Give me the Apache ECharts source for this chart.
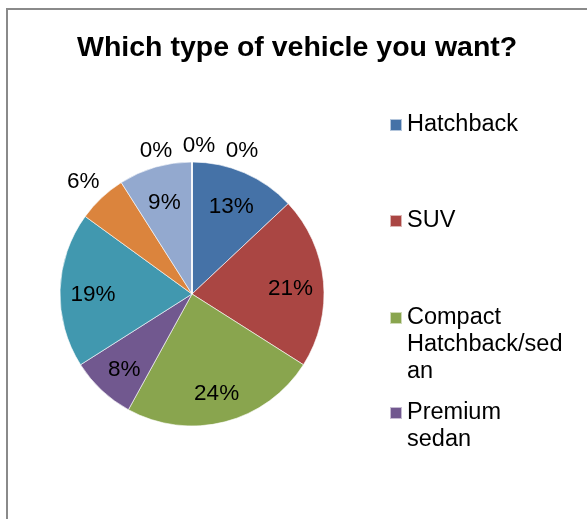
<!DOCTYPE html>
<html>
<head>
<meta charset="utf-8">
<script src="https://cdn.jsdelivr.net/npm/echarts@6/dist/echarts.min.js"></script>
<style>
  html, body { margin: 0; padding: 0; background: #ffffff; }
  #chart { width: 587px; height: 519px; }
</style>
</head>
<body>
<div id="chart"></div>
<script>
// Survey answers: share of respondents (%) per vehicle type, clockwise from 12 o'clock
const categories = [
  'Hatchback', 'SUV', 'Compact Hatchback/sedan', 'Premium sedan',
  'Sedan', 'MUV', 'Luxury', 'Electric', 'Hybrid', 'Other'
];
const shares = [13, 21, 24, 8, 19, 6, 9, 0, 0, 0];
const sliceColors = [
  '#4572A7', '#AA4643', '#89A54E', '#71588F', '#4198AF',
  '#DB843D', '#93A9CF', '#D19392', '#B9CD96', '#A99BBD'
];
// Legend entries that fit in the box, with their wrapped text
const legendNames = ['Hatchback', 'SUV', 'Compact Hatchback/sedan', 'Premium sedan'];
const legendLines = {
  'Hatchback': ['Hatchback'],
  'SUV': ['SUV'],
  'Compact Hatchback/sedan': ['Compact', 'Hatchback/sed', 'an'],
  'Premium sedan': ['Premium', 'sedan']
};

const FONT = '"Liberation Sans", Arial, sans-serif';
const CX = 192, CY = 294, R = 132;
const LEGEND_LINE = 27;
const legendIconY = [125, 221, 318, 413];

// Blank lines are put before the wrapped text so the marker sits beside the first line
function legendLabel(name) {
  const lines = legendLines[name];
  return '\n'.repeat(lines.length - 1) + lines.join('\n');
}
const legends = legendNames.map(function (name, i) {
  const total = legendLines[name].length * 2 - 1;
  return {
    data: [name],
    orient: 'vertical',
    left: 389,
    top: legendIconY[i] - total * LEGEND_LINE / 2,
    padding: 0,
    itemWidth: 12,
    itemHeight: 12,
    icon: 'rect',
    selectedMode: false,
    formatter: legendLabel,
    textStyle: { fontFamily: FONT, fontSize: 23.5, color: '#000', lineHeight: LEGEND_LINE }
  };
});

// Percent labels: inside the larger slices, outside the small ones,
// and the empty slices are spread side by side above 12 o'clock
const zeroSpread = 43;
const LABEL_DROP = 4;
function placeLabel(p) {
  const v = shares[p.dataIndex];
  const rect = p.labelRect;
  const lx = rect.x + rect.width / 2;
  const ly = rect.y + rect.height / 2;
  const vx = lx - CX, vy = ly - CY;
  const len = Math.hypot(vx, vy) || 1;
  if (v === 0) {
    const k = shares.slice(0, p.dataIndex).filter(function (s) { return s === 0; }).length;
    const tx = CX - 36 + k * zeroSpread;
    const ty = CY - 147 + (k === 1 ? -5 : 0);
    return { dx: tx - lx, dy: ty - ly + LABEL_DROP };
  }
  const target = v < 7 ? R + 27 : R * 0.75;
  return { dx: vx / len * target - vx, dy: vy / len * target - vy + LABEL_DROP };
}

const chart = echarts.init(document.getElementById('chart'), null, { renderer: 'canvas' });
chart.setOption({
  animation: false,
  backgroundColor: '#ffffff',
  color: sliceColors,
  title: {
    text: 'Which type of vehicle you want?',
    left: 77,
    top: 34,
    padding: 0,
    textStyle: { fontFamily: FONT, fontSize: 28.5, fontWeight: 'bold', color: '#000' }
  },
  legend: legends,
  graphic: [{
    type: 'rect',
    shape: { x: 7, y: 9, width: 700, height: 700 },
    style: { fill: 'none', stroke: '#8a8a8a', lineWidth: 2 },
    silent: true
  }],
  series: [{
    type: 'pie',
    center: [CX, CY],
    radius: R,
    startAngle: 90,
    clockwise: true,
    avoidLabelOverlap: false,
    itemStyle: { borderColor: 'rgba(255,255,255,0.6)', borderWidth: 1 },
    label: {
      show: true,
      position: 'inside',
      formatter: function (p) { return p.value + '%'; },
      fontFamily: FONT,
      fontSize: 22.5,
      color: '#000'
    },
    labelLine: { show: false },
    labelLayout: placeLabel,
    emphasis: { disabled: true },
    data: categories.map(function (name, i) {
      return { name: name, value: shares[i] };
    })
  }]
});
</script>
</body>
</html>
